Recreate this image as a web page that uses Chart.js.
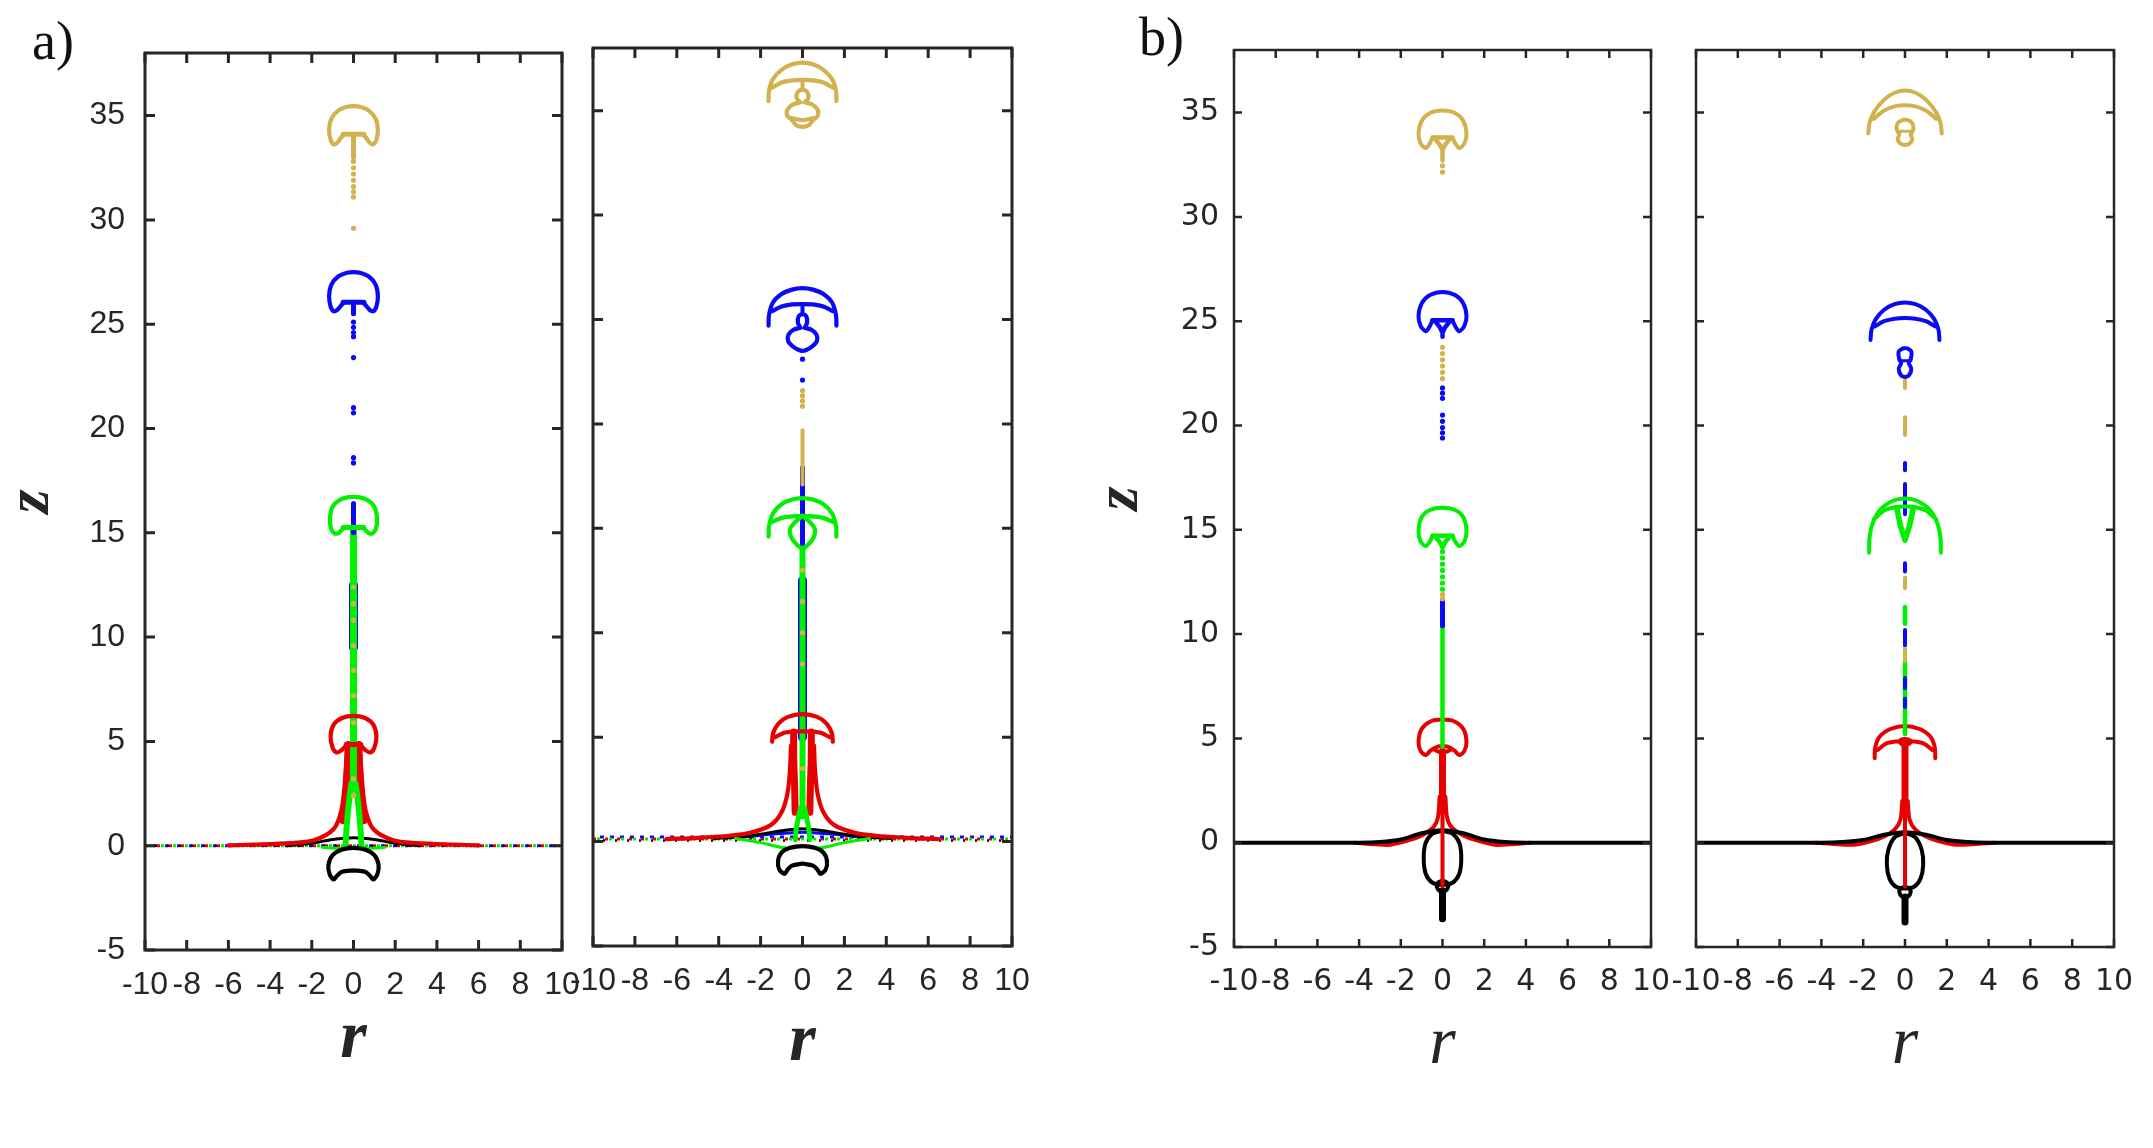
<!DOCTYPE html>
<html>
<head>
<meta charset="utf-8">
<script src="https://cdn.jsdelivr.net/npm/chart.js@4.4.1/dist/chart.umd.min.js"></script>
<style>
  body { margin: 0; background: #fff; width: 2153px; height: 1148px; overflow: hidden; position: relative; }
  canvas { position: absolute; left: 0; top: 0; }
  .tag { position: absolute; font-family: "Liberation Serif", serif; font-size: 54px; line-height: 1; color: #111; }
</style>
</head>
<body>
<div class="tag" style="left:32px;top:14px">a)</div>
<div class="tag" style="left:1139px;top:10px">b)</div>
<canvas id="a1" width="2153" height="1148"></canvas>
<canvas id="a2" width="2153" height="1148"></canvas>
<canvas id="b1" width="2153" height="1148"></canvas>
<canvas id="b2" width="2153" height="1148"></canvas>
<script>
// axis ticks
const rTicks = [-10, -8, -6, -4, -2, 0, 2, 4, 6, 8, 10];
const zTicks = [-5, 0, 5, 10, 15, 20, 25, 30, 35];

// ---------- panel a, left ----------
const a1GoldCap = [[-0.45,34.1],[-0.62,33.92],[-0.78,33.7],[-0.95,33.62],[-1.1,33.85],[-1.17,34.3],[-1.06,34.85],[-0.72,35.25],[-0.3,35.42],[0,35.45],[0.3,35.42],[0.72,35.25],[1.06,34.85],[1.17,34.3],[1.1,33.85],[0.95,33.62],[0.78,33.7],[0.62,33.92],[0.45,34.1]];
const a1GoldBar = [[-0.5,34.1],[0.5,34.1]];
const a1GoldStem = [[0,34.1],[0,33.0]];
const a1GoldDots = [[0,32.8],[0,32.5],[0,32.2],[0,31.9],[0,31.6],[0,31.35],[0,31.1],[0,29.6],[0,12.4],[0,11.6],[0,10.8],[0,9.6],[0,8.4],[0,7.2],[0,5.9],[0,3.2],[0,2.4]];
const a1BlueCap = [[-0.45,26.05],[-0.62,25.87],[-0.78,25.68],[-0.96,25.62],[-1.1,25.85],[-1.17,26.35],[-1.06,26.9],[-0.72,27.3],[-0.3,27.47],[0,27.5],[0.3,27.47],[0.72,27.3],[1.06,26.9],[1.17,26.35],[1.1,25.85],[0.96,25.62],[0.78,25.68],[0.62,25.87],[0.45,26.05]];
const a1BlueBar = [[-0.5,26.05],[0.5,26.05]];
const a1BlueStem = [[0,26.05],[0,25.5]];
const a1BlueInner = [[0,15.0],[0,16.4]];
const a1BlueColumn = [[0,9.5],[0,12.5]];
const a1BlueDots = [[0,25.1],[0,24.85],[0,24.6],[0,24.4],[0,23.4],[0,21.0],[0,20.75],[0,18.6],[0,18.35]];
const a1GreenCap = [[-0.45,15.25],[-0.62,15.08],[-0.76,14.97],[-0.92,14.98],[-1.08,15.2],[-1.13,15.7],[-1.0,16.25],[-0.65,16.58],[-0.3,16.7],[0,16.72],[0.3,16.7],[0.65,16.58],[1.0,16.25],[1.13,15.7],[1.08,15.2],[0.92,14.98],[0.76,14.97],[0.62,15.08],[0.45,15.25]];
const a1GreenBar = [[-0.5,15.25],[0.5,15.25]];
const a1GreenStem = [[0,15.25],[0,2.8]];
const a1GreenLegL = [[-0.1,3.0],[-0.25,1.8],[-0.35,0.6],[-0.38,0.0]];
const a1GreenLegR = [[0.1,3.0],[0.25,1.8],[0.35,0.6],[0.38,0.0]];
const a1GreenBaseL = [[-1.5,-0.08],[-0.6,-0.12],[-0.38,0]];
const a1GreenBaseR = [[0.38,0],[0.6,-0.12],[1.5,-0.08]];
const a1RedCap = [[-0.35,4.8],[-0.55,4.6],[-0.8,4.47],[-1.0,4.7],[-1.1,5.25],[-0.95,5.8],[-0.55,6.12],[0,6.22],[0.55,6.12],[0.95,5.8],[1.1,5.25],[1.0,4.7],[0.8,4.47],[0.55,4.6],[0.35,4.8]];
const a1RedBar = [[-0.35,4.85],[0.35,4.85]];
const a1RedLegL = [[-0.25,4.85],[-0.3,3.5],[-0.38,2.2],[-0.5,1.2]];
const a1RedLegR = [[0.25,4.85],[0.3,3.5],[0.38,2.2],[0.5,1.2]];
const a1RedFlareL = [[-0.3,4.8],[-0.42,3.0],[-0.58,1.7],[-0.95,0.8],[-1.9,0.26],[-3.0,0.12],[-4.8,0.05],[-6,0.02]];
const a1RedFlareR = [[0.3,4.8],[0.42,3.0],[0.58,1.7],[0.95,0.8],[1.9,0.26],[3.0,0.12],[4.8,0.05],[6,0.02]];
const a1BlackCap = [[0,-1.18],[-0.55,-1.25],[-0.8,-1.45],[-0.95,-1.62],[-1.15,-1.35],[-1.2,-0.9],[-1.0,-0.45],[-0.55,-0.18],[0,-0.1],[0.55,-0.18],[1.0,-0.45],[1.2,-0.9],[1.15,-1.35],[0.95,-1.62],[0.8,-1.45],[0.55,-1.25],[0,-1.18]];
const a1BlackHump = [[-3.2,0.0],[-2,0.12],[-1,0.3],[0,0.38],[1,0.3],[2,0.12],[3.2,0.0]];
const a1Interface = [[-10,0],[10,0]];

// ---------- panel a, right ----------
const a2GoldDome = [[-1.62,35.45],[-1.6,35.95],[-1.42,36.5],[-1.0,36.95],[-0.5,37.22],[0,37.3],[0.5,37.22],[1.0,36.95],[1.42,36.5],[1.6,35.95],[1.62,35.45]];
const a2GoldArc = [[-1.45,36.1],[-1.0,36.35],[-0.5,36.45],[0,36.47],[0.5,36.45],[1.0,36.35],[1.45,36.1]];
const a2GoldTop = [[-0.1,35.4],[-0.28,35.6],[-0.22,35.9],[0,36.0],[0.22,35.9],[0.28,35.6],[0.1,35.4]];
const a2GoldLobes = [[-0.1,35.4],[-0.45,35.3],[-0.72,35.05],[-0.72,34.75],[-0.5,34.55],[-0.3,34.3],[0,34.22],[0.3,34.3],[0.5,34.55],[0.72,34.75],[0.72,35.05],[0.45,35.3],[0.1,35.4]];
const a2GoldInner = [[-0.55,34.65],[0,34.55],[0.55,34.65]];
const a2GoldStalk = [[0,36.47],[0,36.0]];
const a2GoldColumn = [[0,19.7],[0,17.1]];
const a2GoldDots = [[0,21.6],[0,21.35],[0,21.1],[0,20.85],[0,16.9],[0,13.0],[0,11.5],[0,10.0],[0,8.5],[0,3.5]];
const a2BlueDome = [[-1.62,24.7],[-1.6,25.2],[-1.42,25.8],[-1.0,26.22],[-0.5,26.43],[0,26.5],[0.5,26.43],[1.0,26.22],[1.42,25.8],[1.6,25.2],[1.62,24.7]];
const a2BlueArc = [[-1.45,25.4],[-1.0,25.62],[-0.5,25.72],[0,25.74],[0.5,25.72],[1.0,25.62],[1.45,25.4]];
const a2BlueTop = [[-0.1,24.6],[-0.22,24.85],[-0.18,25.15],[0,25.25],[0.18,25.15],[0.22,24.85],[0.1,24.6]];
const a2BlueLobes = [[-0.1,24.6],[-0.45,24.5],[-0.68,24.25],[-0.68,23.95],[-0.45,23.7],[-0.2,23.55],[0,23.5],[0.2,23.55],[0.45,23.7],[0.68,23.95],[0.68,24.25],[0.45,24.5],[0.1,24.6]];
const a2BlueStalk = [[0,25.74],[0,25.25]];
const a2BlueDots = [[0,23.1],[0,22.1]];
const a2BlueColumn = [[0,17.9],[0,14.2]];
const a2BlueUnder = [[0,12.5],[0,5.0]];
const a2BlueHump = [[-3,0.2],[-1.5,0.35],[0,0.45],[1.5,0.35],[3,0.2]];
const a2GreenDome = [[-1.62,14.6],[-1.6,15.1],[-1.42,15.7],[-1.0,16.15],[-0.5,16.38],[0,16.45],[0.5,16.38],[1.0,16.15],[1.42,15.7],[1.6,15.1],[1.62,14.6]];
const a2GreenArc = [[-1.45,15.3],[-1.0,15.5],[-0.5,15.57],[0,15.6],[0.5,15.57],[1.0,15.5],[1.45,15.3]];
const a2GreenLoop = [[0,15.6],[-0.4,15.25],[-0.6,14.95],[-0.55,14.6],[-0.3,14.25],[0,14.05],[0.3,14.25],[0.55,14.6],[0.6,14.95],[0.4,15.25],[0,15.6]];
const a2GreenStem = [[0,14.05],[0,1.2]];
const a2GreenLegL = [[-0.1,1.6],[-0.3,0.6],[-0.35,0.1]];
const a2GreenLegR = [[0.1,1.6],[0.3,0.6],[0.35,0.1]];
const a2GreenBaseL = [[-3.2,0.15],[-2.0,-0.05],[-0.9,-0.3],[-0.35,-0.3]];
const a2GreenBaseR = [[0.35,-0.3],[0.9,-0.3],[2.0,-0.05],[3.2,0.15]];
const a2RedDome = [[-1.45,4.78],[-1.4,5.2],[-1.15,5.65],[-0.7,5.97],[0,6.1],[0.7,5.97],[1.15,5.65],[1.4,5.2],[1.45,4.78]];
const a2RedArc = [[-1.3,5.0],[-0.9,5.2],[-0.45,5.27],[0,5.28],[0.45,5.27],[0.9,5.2],[1.3,5.0]];
const a2RedLegL = [[-0.42,5.25],[-0.42,4.0],[-0.38,2.8],[-0.35,1.4]];
const a2RedLegR = [[0.42,5.25],[0.42,4.0],[0.38,2.8],[0.35,1.4]];
const a2RedFlareL = [[-0.55,4.6],[-0.6,3.4],[-0.72,2.3],[-1.0,1.4],[-1.5,0.8],[-2.5,0.42],[-3.5,0.28],[-5,0.18],[-6.5,0.12]];
const a2RedFlareR = [[0.55,4.6],[0.6,3.4],[0.72,2.3],[1.0,1.4],[1.5,0.8],[2.5,0.42],[3.5,0.28],[5,0.18],[6.5,0.12]];
const a2BlackCap = [[0,-1.05],[-0.5,-1.15],[-0.72,-1.35],[-0.85,-1.55],[-1.1,-1.35],[-1.17,-0.95],[-1.02,-0.55],[-0.6,-0.3],[0,-0.22],[0.6,-0.3],[1.02,-0.55],[1.17,-0.95],[1.1,-1.35],[0.85,-1.55],[0.72,-1.35],[0.5,-1.15],[0,-1.05]];
const a2BlackHump = [[-4.2,0.15],[-3,0.22],[-2,0.35],[-1,0.52],[0,0.62],[1,0.52],[2,0.35],[3,0.22],[4.2,0.15]];
const a2Interface = [[-10,0.12],[10,0.12]];
const a2InterfaceHigh = [[-10,0.22],[10,0.22]];
const a2InterfaceLow = [[-10,0.05],[10,0.05]];

// ---------- panel b, left ----------
const b1GoldCap = [[-0.48,33.8],[-0.6,33.55],[-0.8,33.3],[-1.05,33.52],[-1.15,34.0],[-1.0,34.6],[-0.6,34.98],[0,35.1],[0.6,34.98],[1.0,34.6],[1.15,34.0],[1.05,33.52],[0.8,33.3],[0.6,33.55],[0.48,33.8]];
const b1GoldBar = [[-0.48,33.8],[0.48,33.8]];
const b1GoldFunnel = [[-0.4,33.8],[-0.12,33.45],[0,33.2],[0.12,33.45],[0.4,33.8]];
const b1GoldStem = [[0,33.2],[0,32.7]];
const b1GoldDots = [[0,32.45],[0,32.15],[0,23.75],[0,23.45],[0,23.15],[0,22.85],[0,22.55],[0,22.25],[0,11.9],[0,11.7]];
const b1BlueCap = [[-0.48,25.05],[-0.6,24.78],[-0.8,24.52],[-1.05,24.78],[-1.15,25.25],[-1.0,25.85],[-0.6,26.25],[0,26.4],[0.6,26.25],[1.0,25.85],[1.15,25.25],[1.05,24.78],[0.8,24.52],[0.6,24.78],[0.48,25.05]];
const b1BlueBar = [[-0.48,25.05],[0.48,25.05]];
const b1BlueFunnel = [[-0.4,25.05],[-0.12,24.7],[0,24.45],[0.12,24.7],[0.4,25.05]];
const b1BlueStem = [[0,24.45],[0,24.25]];
const b1BlueDots = [[0,21.8],[0,21.55],[0,21.3],[0,20.5],[0,20.2],[0,19.9],[0,19.65],[0,19.4]];
const b1BlueColumn = [[0,11.55],[0,10.4]];
const b1GreenCap = [[-0.48,14.72],[-0.6,14.45],[-0.8,14.22],[-1.05,14.45],[-1.15,14.95],[-1.0,15.6],[-0.6,15.95],[0,16.06],[0.6,15.95],[1.0,15.6],[1.15,14.95],[1.05,14.45],[0.8,14.22],[0.6,14.45],[0.48,14.72]];
const b1GreenBar = [[-0.48,14.72],[0.48,14.72]];
const b1GreenFunnel = [[-0.4,14.72],[-0.12,14.4],[0,14.15],[0.12,14.4],[0.4,14.72]];
const b1GreenDots = [[0,13.95],[0,13.65],[0,13.35],[0,13.05],[0,12.75],[0,12.45],[0,12.15]];
const b1GreenColumn = [[0,10.4],[0,4.6]];
const b1RedCap = [[-0.45,4.5],[-0.6,4.4],[-0.8,4.2],[-1.05,4.4],[-1.15,4.86],[-1.0,5.45],[-0.6,5.8],[0,5.9],[0.6,5.8],[1.0,5.45],[1.15,4.86],[1.05,4.4],[0.8,4.2],[0.6,4.4],[0.45,4.5]];
const b1RedRing = [[-0.45,4.5],[-0.2,4.62],[0,4.64],[0.2,4.62],[0.45,4.5],[0.2,4.36],[0,4.32],[-0.2,4.36],[-0.45,4.5]];
const b1RedStem = [[0,4.4],[0,1.5]];
const b1RedTail = [[0,1.5],[0,-2.1]];
const b1RedFlareL = [[-0.14,2.2],[-0.22,1.2],[-0.45,0.72],[-1.0,0.35],[-1.6,0.12],[-2.5,-0.1],[-3.2,-0.08],[-4.2,0]];
const b1RedFlareR = [[0.14,2.2],[0.22,1.2],[0.45,0.72],[1.0,0.35],[1.6,0.12],[2.5,-0.1],[3.2,-0.08],[4.2,0]];
const b1BlackLine = [[-10,0],[-4,0],[-3,0.03],[-2,0.15],[-1,0.45],[0,0.6],[1,0.45],[2,0.15],[3,0.03],[4,0],[10,0]];
const b1BlackDrop = [[0,0.58],[0.5,0.42],[0.82,-0.05],[0.9,-0.8],[0.8,-1.5],[0.48,-1.92],[0,-2.02],[-0.48,-1.92],[-0.8,-1.5],[-0.9,-0.8],[-0.82,-0.05],[-0.5,0.42],[0,0.58]];
const b1BlackLoop = [[0,-1.82],[0.22,-1.92],[0.28,-2.1],[0.15,-2.3],[0,-2.33],[-0.15,-2.3],[-0.28,-2.1],[-0.22,-1.92],[0,-1.82]];
const b1BlackTail = [[0,-2.3],[0,-3.65]];

// ---------- panel b, right ----------
const b2GoldDome = [[-1.76,34.0],[-1.7,34.5],[-1.5,35.0],[-1.0,35.62],[-0.5,35.95],[0,36.06],[0.5,35.95],[1.0,35.62],[1.5,35.0],[1.7,34.5],[1.76,34.0]];
const b2GoldArc = [[-1.5,34.7],[-1.0,35.1],[-0.5,35.3],[0,35.35],[0.5,35.3],[1.0,35.1],[1.5,34.7]];
const b2GoldBlob = [[-0.1,34.65],[-0.35,34.5],[-0.4,34.2],[-0.28,33.95],[-0.35,33.72],[-0.2,33.5],[0,33.45],[0.2,33.5],[0.35,33.72],[0.28,33.95],[0.4,34.2],[0.35,34.5],[0.1,34.65],[-0.1,34.65]];
const b2GoldBar = [[-0.32,34.1],[0.32,34.1]];
const b2GoldDashes = [[[0,22.2],[0,21.8]],[[0,20.4],[0,19.55]],[[0,12.7],[0,12.2]],[[0,9.3],[0,8.7]]];
const b2BlueDome = [[-1.65,24.1],[-1.6,24.6],[-1.4,25.1],[-1.0,25.55],[-0.5,25.82],[0,25.9],[0.5,25.82],[1.0,25.55],[1.4,25.1],[1.6,24.6],[1.65,24.1]];
const b2BlueArc = [[-1.45,24.75],[-1.0,25.0],[-0.5,25.12],[0,25.15],[0.5,25.12],[1.0,25.0],[1.45,24.75]];
const b2BlueBlob = [[-0.1,23.7],[-0.3,23.55],[-0.28,23.2],[-0.18,23.0],[-0.3,22.72],[-0.2,22.42],[0,22.32],[0.2,22.42],[0.3,22.72],[0.18,23.0],[0.28,23.2],[0.3,23.55],[0.1,23.7],[-0.1,23.7]];
const b2BlueBar = [[-0.28,23.1],[0.28,23.1]];
const b2BlueDashes = [[[0,18.2],[0,17.85]],[[0,17.2],[0,15.75]],[[0,13.4],[0,13.0]],[[0,10.2],[0,9.45]],[[0,7.9],[0,7.4]],[[0,6.9],[0,6.5]]];
const b2GreenDome = [[-1.72,13.9],[-1.7,14.6],[-1.55,15.3],[-1.2,15.95],[-0.6,16.38],[0,16.5],[0.6,16.38],[1.2,15.95],[1.55,15.3],[1.7,14.6],[1.72,13.9]];
const b2GreenArc = [[-1.5,15.5],[-1.0,15.92],[-0.5,16.08],[0,16.12],[0.5,16.08],[1.0,15.92],[1.5,15.5]];
const b2GreenV = [[-0.4,16.05],[-0.22,15.2],[0,14.5],[0.22,15.2],[0.4,16.05]];
const b2GreenDashes = [[[0,11.3],[0,10.5]],[[0,8.66],[0,5.2]]];
const b2RedDome = [[-1.45,4.05],[-1.42,4.6],[-1.2,5.1],[-0.7,5.45],[0,5.6],[0.7,5.45],[1.2,5.1],[1.42,4.6],[1.45,4.05]];
const b2RedArc = [[-1.3,4.45],[-0.9,4.75],[-0.45,4.85],[0,4.87],[0.45,4.85],[0.9,4.75],[1.3,4.45]];
const b2RedRing = [[-0.3,4.85],[-0.15,4.95],[0,4.97],[0.15,4.95],[0.3,4.85],[0.15,4.72],[0,4.7],[-0.15,4.72],[-0.3,4.85]];
const b2RedStem = [[0,4.7],[0,1.55]];
const b2RedTail = [[0,1.55],[0,-2.1]];
const b2RedFlareL = [[-0.13,2.0],[-0.22,1.1],[-0.48,0.65],[-1.0,0.3],[-1.6,0.08],[-2.5,-0.1],[-3.5,-0.05],[-4.3,0]];
const b2RedFlareR = [[0.13,2.0],[0.22,1.1],[0.48,0.65],[1.0,0.3],[1.6,0.08],[2.5,-0.1],[3.5,-0.05],[4.3,0]];
const b2BlackLine = [[-10,0],[-4,0],[-3,0.03],[-2,0.13],[-1,0.38],[0,0.5],[1,0.38],[2,0.13],[3,0.03],[4,0],[10,0]];
const b2BlackDrop = [[0,0.47],[0.5,0.25],[0.8,-0.35],[0.87,-1.05],[0.75,-1.7],[0.45,-2.1],[0,-2.2],[-0.45,-2.1],[-0.75,-1.7],[-0.87,-1.05],[-0.8,-0.35],[-0.5,0.25],[0,0.47]];
const b2BlackLoop = [[0,-2.1],[0.22,-2.2],[0.27,-2.38],[0.15,-2.58],[0,-2.62],[-0.15,-2.58],[-0.27,-2.38],[-0.22,-2.2],[0,-2.1]];
const b2BlackTail = [[0,-2.6],[0,-3.8]];

// colours
const GOLD = "#D2B24E", BLUE = "#0A0AF5", GREEN = "#00F000", RED = "#E60000", BLACK = "#000000";
const INK = "#262626";
const W = 2153, H = 1148;

// helpers: a polyline made of one or more segments, free dots, dashed line
function path(segs, color, width, tension = 0.3) {
  const data = [];
  segs.forEach((s, i) => { if (i) data.push([null, null]); data.push(...s); });
  return { data, showLine: true, borderColor: color, borderWidth: width, pointRadius: 0,
    pointHoverRadius: 0, tension, spanGaps: false, borderCapStyle: "round", borderJoinStyle: "round" };
}
function dots(points, color, radius = 2.6) {
  return { data: points, showLine: false, pointRadius: radius, pointHoverRadius: 0,
    pointBackgroundColor: color, pointBorderWidth: 0 };
}
function dashed(points, color, width, dash, offset) {
  return Object.assign(path([points], color, width, 0), { borderDash: dash, borderDashOffset: offset, borderCapStyle: "butt" });
}

// frame with inward ticks on all four sides
const framePlugin = {
  id: "frame",
  afterDatasetsDraw(chart, args, o) {
    const { ctx, chartArea: a, scales: { x, y } } = chart;
    ctx.save();
    ctx.strokeStyle = o.color;
    ctx.lineWidth = o.width;
    ctx.strokeRect(a.left, a.top, a.right - a.left, a.bottom - a.top);
    ctx.beginPath();
    x.ticks.forEach(t => {
      const px = x.getPixelForValue(t.value);
      ctx.moveTo(px, a.bottom); ctx.lineTo(px, a.bottom - o.len);
      ctx.moveTo(px, a.top); ctx.lineTo(px, a.top + o.len);
    });
    y.ticks.forEach(t => {
      const py = y.getPixelForValue(t.value);
      ctx.moveTo(a.left, py); ctx.lineTo(a.left + o.len, py);
      ctx.moveTo(a.right, py); ctx.lineTo(a.right - o.len, py);
    });
    ctx.stroke();
    ctx.restore();
  }
};

function makeChart(id, box, sets, cfg) {
  const yw = cfg.showY ? 145 : 10;
  sets.forEach((d, i) => { d.order = sets.length - i; });
  return new Chart(document.getElementById(id), {
    type: "scatter",
    data: { datasets: sets },
    plugins: [framePlugin],
    options: {
      responsive: false, animation: false, devicePixelRatio: 1, events: [],
      layout: { padding: { left: box.left - yw, top: box.top, right: W - box.right, bottom: 0 } },
      plugins: { legend: { display: false }, tooltip: { enabled: false },
        frame: { color: INK, width: cfg.frameW, len: cfg.tickLen } },
      scales: {
        x: {
          type: "linear", position: "bottom", min: -10, max: 10,
          afterBuildTicks: s => { s.ticks = rTicks.map(v => ({ value: v })); },
          afterFit: s => { s.height = H - box.bottom; },
          grid: { display: false, drawTicks: false }, border: { display: false },
          ticks: { autoSkip: false, maxRotation: 0, minRotation: 0, padding: cfg.xPad, color: INK,
            font: { family: cfg.family, size: cfg.size }, callback: v => String(v) },
          title: { display: true, text: "r", color: INK,
            font: { family: "Liberation Serif", size: 68, style: "italic", weight: cfg.rWeight, lineHeight: 1 },
            padding: { top: 0, bottom: cfg.rPad } }
        },
        y: {
          type: "linear", position: "left", min: -5, max: 38,
          afterBuildTicks: s => { s.ticks = zTicks.map(v => ({ value: v })); },
          afterFit: s => { s.width = yw; },
          grid: { display: false, drawTicks: false }, border: { display: false },
          ticks: { display: cfg.showY, padding: cfg.yPad, color: INK,
            font: { family: cfg.family, size: cfg.size }, callback: v => String(v) },
          title: { display: cfg.showY, text: "z", color: INK,
            font: { family: "Liberation Serif", size: 62, style: "italic", weight: "bold", lineHeight: 1 },
            padding: { top: 1, bottom: 0 } }
        }
      }
    }
  });
}

const cfgA = { family: "Liberation Sans", size: 32, xPad: 16, yPad: 20, frameW: 3, tickLen: 10, rWeight: "bold" };
const cfgB = { family: "DejaVu Sans", size: 30, xPad: 17, yPad: 15, frameW: 2.5, tickLen: 8, rWeight: "normal" };

const LW = 4.2;
const LWB = 4;

makeChart("a1", { left: 145, top: 53, right: 562, bottom: 950 }, [
  dashed(a1Interface, RED, 3, [3, 9], 0),
  dashed(a1Interface, BLUE, 3, [3, 9], 4),
  dashed(a1Interface, GREEN, 3, [3, 9], 8),
  dashed(a1Interface, BLACK, 2.5, [2, 10], 2),
  path([a1BlackHump], BLACK, 3),
  path([a1RedFlareL, a1RedFlareR], RED, LW),
  path([a1RedLegL, a1RedLegR], RED, 7, 0.2),
  path([a1BlueColumn], BLUE, 9, 0),
  path([a1GreenStem], GREEN, 7, 0),
  path([a1GreenLegL, a1GreenLegR], GREEN, 6, 0.2),
  path([a1GreenBaseL, a1GreenBaseR], GREEN, 3, 0.2),
  path([a1RedCap], RED, LW),
  path([a1RedBar], RED, 5, 0),
  dots(a1GoldDots, GOLD),
  path([a1BlueInner], BLUE, 5, 0),
  path([a1GreenCap], GREEN, LW),
  path([a1GreenBar], GREEN, 5, 0),
  path([a1BlueCap], BLUE, LW),
  path([a1BlueBar, a1BlueStem], BLUE, 5, 0),
  dots(a1BlueDots, BLUE),
  path([a1GoldCap], GOLD, LW),
  path([a1GoldBar, a1GoldStem], GOLD, 5, 0),
  path([a1BlackCap], BLACK, LW)
], Object.assign({ showY: true, rPad: 75 }, cfgA));

makeChart("a2", { left: 593, top: 48, right: 1012, bottom: 946 }, [
  dashed(a2Interface, RED, 3, [3, 9], 0),
  dashed(a2InterfaceHigh, BLUE, 3, [4, 6], 3),
  dashed(a2Interface, GREEN, 3, [3, 9], 8),
  dashed(a2InterfaceLow, BLACK, 2.5, [2, 10], 2),
  path([a2BlueHump], BLUE, 3),
  path([a2BlackHump], BLACK, 3),
  path([a2RedFlareL, a2RedFlareR], RED, LW),
  path([a2RedLegL, a2RedLegR], RED, 7, 0.2),
  path([a2BlueUnder], BLUE, 9, 0),
  path([a2GreenStem], GREEN, 6, 0),
  path([a2GreenLegL, a2GreenLegR], GREEN, 5, 0.2),
  path([a2GreenBaseL, a2GreenBaseR], GREEN, 3, 0.2),
  path([a2RedDome, a2RedArc], RED, LW),
  dots(a2GoldDots, GOLD),
  path([a2BlueColumn], BLUE, 5, 0),
  path([a2GoldColumn], GOLD, 4, 0),
  path([a2GreenDome, a2GreenArc, a2GreenLoop], GREEN, LW),
  path([a2BlueDome, a2BlueArc, a2BlueTop, a2BlueLobes], BLUE, LW),
  path([a2BlueStalk], BLUE, 4, 0),
  dots(a2BlueDots, BLUE),
  path([a2GoldDome, a2GoldArc, a2GoldTop, a2GoldLobes, a2GoldInner], GOLD, LW),
  path([a2GoldStalk], GOLD, 4, 0),
  path([a2BlackCap], BLACK, LW)
], Object.assign({ showY: false, rPad: 72 }, cfgA));

makeChart("b1", { left: 1234, top: 50, right: 1651, bottom: 947 }, [
  path([b1RedFlareL, b1RedFlareR], RED, LWB),
  path([b1BlackLine], BLACK, LWB),
  path([b1BlackDrop, b1BlackLoop], BLACK, LWB),
  path([b1BlackTail], BLACK, 7, 0),
  path([b1RedTail], RED, 4, 0),
  path([b1RedStem], RED, 7, 0),
  path([b1RedCap, b1RedRing], RED, LWB),
  path([b1GreenColumn], GREEN, 4.5, 0),
  path([b1BlueColumn], BLUE, 5, 0),
  dots(b1GreenDots, GREEN),
  path([b1GreenCap], GREEN, LWB),
  path([b1GreenBar, b1GreenFunnel], GREEN, 4.5, 0),
  dots(b1BlueDots, BLUE),
  path([b1BlueCap], BLUE, LWB),
  path([b1BlueBar, b1BlueFunnel, b1BlueStem], BLUE, 4.5, 0),
  dots(b1GoldDots, GOLD),
  path([b1GoldCap], GOLD, LWB),
  path([b1GoldBar, b1GoldFunnel, b1GoldStem], GOLD, 4.5, 0)
], Object.assign({ showY: true, rPad: 69 }, cfgB));

makeChart("b2", { left: 1696, top: 50, right: 2114, bottom: 947 }, [
  path([b2RedFlareL, b2RedFlareR], RED, LWB),
  path([b2BlackLine], BLACK, LWB),
  path([b2BlackDrop, b2BlackLoop], BLACK, LWB),
  path([b2BlackTail], BLACK, 7, 0),
  path([b2RedTail], RED, 4, 0),
  path([b2RedStem], RED, 7, 0),
  path([b2RedDome, b2RedArc, b2RedRing], RED, LWB),
  path(b2GreenDashes, GREEN, 4.5, 0),
  path(b2BlueDashes, BLUE, 4, 0),
  path(b2GoldDashes, GOLD, 4, 0),
  path([b2GreenDome, b2GreenArc], GREEN, LWB),
  path([b2GreenV], GREEN, 5.5, 0),
  path([b2BlueDome, b2BlueArc, b2BlueBlob], BLUE, LWB),
  path([b2BlueBar], BLUE, 3, 0),
  path([b2GoldDome, b2GoldArc, b2GoldBlob], GOLD, LWB),
  path([b2GoldBar], GOLD, 3, 0)
], Object.assign({ showY: false, rPad: 69 }, cfgB));
</script>
</body>
</html>
